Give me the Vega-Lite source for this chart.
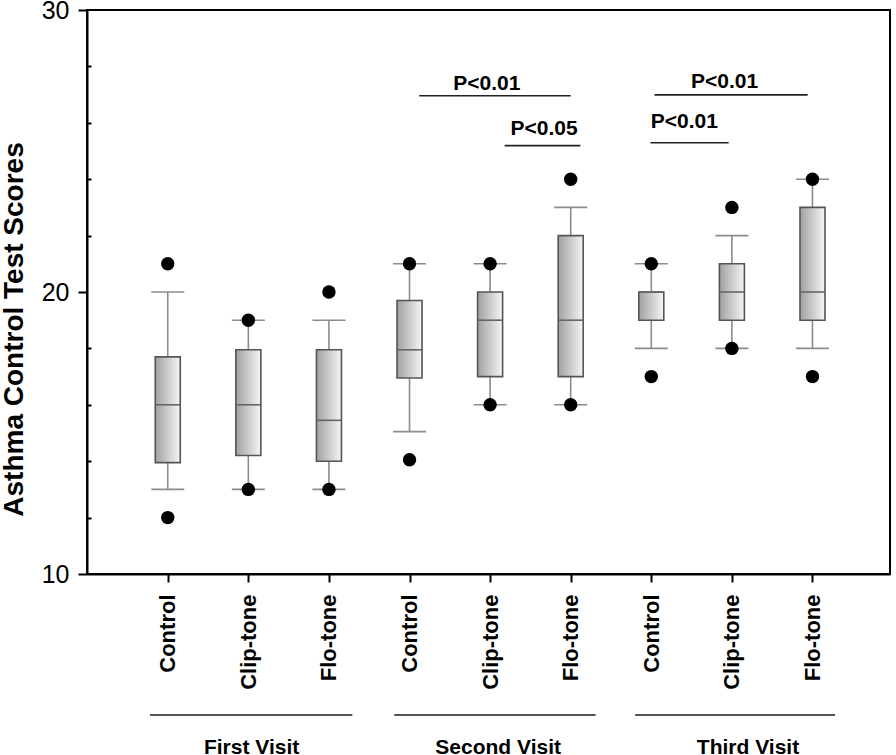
{
  "$schema": "https://vega.github.io/schema/vega-lite/v6.json",
  "width": 803,
  "height": 564,
  "autosize": {"type": "none"},
  "padding": {"left": 87, "top": 10, "right": 6, "bottom": 181},
  "background": "white",
  "config": {
    "view": {"stroke": "#000", "strokeWidth": 2},
    "font": "Liberation Sans",
    "axis": {"grid": false}
  },
  "datasets": {
    "boxes": [
      {"visit": "First Visit", "group": "Control", "pos": 1, "lower": 13, "q1": 13.95, "median": 16, "q3": 17.7, "upper": 20},
      {"visit": "First Visit", "group": "Clip-tone", "pos": 2, "lower": 13, "q1": 14.2, "median": 16, "q3": 17.95, "upper": 19},
      {"visit": "First Visit", "group": "Flo-tone", "pos": 3, "lower": 13, "q1": 14, "median": 15.45, "q3": 17.95, "upper": 19},
      {"visit": "Second Visit", "group": "Control", "pos": 4, "lower": 15.05, "q1": 16.95, "median": 17.95, "q3": 19.7, "upper": 21},
      {"visit": "Second Visit", "group": "Clip-tone", "pos": 5, "lower": 16, "q1": 17, "median": 19, "q3": 20, "upper": 21},
      {"visit": "Second Visit", "group": "Flo-tone", "pos": 6, "lower": 16, "q1": 17, "median": 19, "q3": 22, "upper": 23},
      {"visit": "Third Visit", "group": "Control", "pos": 7, "lower": 18, "q1": 19, "median": 20, "q3": 20, "upper": 21},
      {"visit": "Third Visit", "group": "Clip-tone", "pos": 8, "lower": 18, "q1": 19, "median": 20, "q3": 21, "upper": 22},
      {"visit": "Third Visit", "group": "Flo-tone", "pos": 9, "lower": 18, "q1": 19, "median": 20, "q3": 23, "upper": 24}
    ],
    "outliers": [
      {"pos": 1, "value": 21}, {"pos": 1, "value": 12},
      {"pos": 2, "value": 19}, {"pos": 2, "value": 13},
      {"pos": 3, "value": 20}, {"pos": 3, "value": 13},
      {"pos": 4, "value": 21}, {"pos": 4, "value": 14.05},
      {"pos": 5, "value": 21}, {"pos": 5, "value": 16},
      {"pos": 6, "value": 24}, {"pos": 6, "value": 16},
      {"pos": 7, "value": 21}, {"pos": 7, "value": 17},
      {"pos": 8, "value": 23}, {"pos": 8, "value": 18},
      {"pos": 9, "value": 24}, {"pos": 9, "value": 17}
    ],
    "pvalues": [
      {"label": "P<0.01", "x1": 4.12, "x2": 6.0, "y": 26.96, "xt": 4.96, "yt": 27.16},
      {"label": "P<0.05", "x1": 5.18, "x2": 6.12, "y": 25.19, "xt": 5.67, "yt": 25.57},
      {"label": "P<0.01", "x1": 7.04, "x2": 8.94, "y": 26.99, "xt": 7.91, "yt": 27.23},
      {"label": "P<0.01", "x1": 6.99, "x2": 7.96, "y": 25.29, "xt": 7.41, "yt": 25.82}
    ],
    "visits": [
      {"visit": "First Visit", "x1": 0.78, "x2": 3.29, "y": 5.0, "xt": 2.04, "yt": 3.62},
      {"visit": "Second Visit", "x1": 3.81, "x2": 6.31, "y": 5.0, "xt": 5.1, "yt": 3.62},
      {"visit": "Third Visit", "x1": 6.8, "x2": 9.28, "y": 5.0, "xt": 8.2, "yt": 3.62}
    ]
  },
  "resolve": {"axis": {"y": "independent", "x": "independent"}},
  "layer": [
    {
      "data": {"name": "boxes"},
      "mark": {"type": "rule", "color": "#8c8c8c", "strokeWidth": 1.6},
      "encoding": {
        "x": {"field": "pos", "type": "quantitative", "scale": {"domain": [0.06, 9.9], "nice": false, "zero": false},
          "axis": {
            "orient": "bottom",
            "values": [1, 2, 3, 4, 5, 6, 7, 8, 9],
            "labelExpr": "datum.value == 1 || datum.value == 4 || datum.value == 7 ? 'Control' : (datum.value == 2 || datum.value == 5 || datum.value == 8 ? 'Clip-tone' : 'Flo-tone')",
            "labelAngle": 270,
            "labelAlign": "right",
            "labelBaseline": "middle",
            "labelFontSize": 22,
            "labelFontWeight": "bold",
            "labelColor": "#000",
            "labelPadding": 12,
            "labelFlush": false,
            "labelOverlap": false,
            "ticks": true,
            "tickSize": 8,
            "tickWidth": 2,
            "tickColor": "#000",
            "domain": true,
            "domainColor": "#000",
            "domainWidth": 2,
            "title": null,
            "grid": false
          }},
        "y": {"field": "lower", "type": "quantitative", "scale": {"domain": [10, 30], "nice": false, "zero": false},
          "axis": {
            "orient": "left",
            "values": [10, 20, 30],
            "tickSize": 9,
            "tickWidth": 2,
            "tickColor": "#000",
            "labelFontSize": 25,
            "labelColor": "#000",
            "labelPadding": 9,
            "labelFlush": false,
            "labelOverlap": false,
            "domainColor": "#000",
            "domainWidth": 2,
            "grid": false,
            "title": "Asthma Control Test Scores",
            "titleFontSize": 28,
            "titleFontWeight": "bold",
            "titleColor": "#000",
            "titleAngle": 270,
            "titleAlign": "center",
            "titleBaseline": "middle",
            "titleX": -72.5,
            "titleY": 319
          }},
        "y2": {"field": "upper"}
      }
    },
    {
      "data": {"name": "boxes"},
      "mark": {"type": "tick", "orient": "horizontal", "size": 33, "thickness": 1.6, "color": "#8c8c8c", "opacity": 1},
      "encoding": {
        "x": {"field": "pos", "type": "quantitative", "scale": {"domain": [0.06, 9.9], "nice": false, "zero": false}, "axis": null},
        "y": {"field": "upper", "type": "quantitative", "scale": {"domain": [10, 30], "nice": false, "zero": false}, "axis": null}
      }
    },
    {
      "data": {"name": "boxes"},
      "mark": {"type": "tick", "orient": "horizontal", "size": 33, "thickness": 1.6, "color": "#8c8c8c", "opacity": 1},
      "encoding": {
        "x": {"field": "pos", "type": "quantitative", "scale": {"domain": [0.06, 9.9], "nice": false, "zero": false}, "axis": null},
        "y": {"field": "lower", "type": "quantitative", "scale": {"domain": [10, 30], "nice": false, "zero": false}, "axis": null}
      }
    },
    {
      "data": {"name": "boxes"},
      "mark": {
        "type": "bar",
        "width": 25,
        "fill": {"gradient": "linear", "x1": 0, "y1": 0, "x2": 1, "y2": 0,
          "stops": [{"offset": 0, "color": "#a0a0a0"}, {"offset": 1, "color": "#f6f6f6"}]},
        "stroke": "#555555",
        "strokeWidth": 1.6,
        "opacity": 1
      },
      "encoding": {
        "x": {"field": "pos", "type": "quantitative", "scale": {"domain": [0.06, 9.9], "nice": false, "zero": false}, "axis": null},
        "y": {"field": "q1", "type": "quantitative", "scale": {"domain": [10, 30], "nice": false, "zero": false}, "axis": null},
        "y2": {"field": "q3"}
      }
    },
    {
      "data": {"name": "boxes"},
      "mark": {"type": "tick", "orient": "horizontal", "size": 25, "thickness": 1.6, "color": "#666666", "opacity": 1},
      "encoding": {
        "x": {"field": "pos", "type": "quantitative", "scale": {"domain": [0.06, 9.9], "nice": false, "zero": false}, "axis": null},
        "y": {"field": "median", "type": "quantitative", "scale": {"domain": [10, 30], "nice": false, "zero": false}, "axis": null}
      }
    },
    {
      "data": {"name": "outliers"},
      "mark": {"type": "circle", "size": 180, "color": "#000", "opacity": 1},
      "encoding": {
        "x": {"field": "pos", "type": "quantitative", "scale": {"domain": [0.06, 9.9], "nice": false, "zero": false}, "axis": null},
        "y": {"field": "value", "type": "quantitative", "scale": {"domain": [10, 30], "nice": false, "zero": false},
          "axis": {
            "orient": "left",
            "values": [12, 14, 16, 18, 22, 24, 26, 28],
            "tickSize": -4,
            "tickWidth": 2,
            "tickColor": "#000",
            "labels": false,
            "domain": false,
            "grid": false,
            "title": null
          }}
      }
    },
    {
      "data": {"name": "pvalues"},
      "mark": {"type": "rule", "color": "#222", "strokeWidth": 1.6},
      "encoding": {
        "x": {"field": "x1", "type": "quantitative", "scale": {"domain": [0.06, 9.9], "nice": false, "zero": false}, "axis": null},
        "x2": {"field": "x2"},
        "y": {"field": "y", "type": "quantitative", "scale": {"domain": [10, 30], "nice": false, "zero": false}, "axis": null}
      }
    },
    {
      "data": {"name": "pvalues"},
      "mark": {"type": "text", "fontSize": 21, "fontWeight": "bold", "color": "#000", "align": "center", "baseline": "alphabetic"},
      "encoding": {
        "x": {"field": "xt", "type": "quantitative", "scale": {"domain": [0.06, 9.9], "nice": false, "zero": false}, "axis": null},
        "y": {"field": "yt", "type": "quantitative", "scale": {"domain": [10, 30], "nice": false, "zero": false}, "axis": null},
        "text": {"field": "label"}
      }
    },
    {
      "data": {"name": "visits"},
      "mark": {"type": "rule", "color": "#555", "strokeWidth": 2},
      "encoding": {
        "x": {"field": "x1", "type": "quantitative", "scale": {"domain": [0.06, 9.9], "nice": false, "zero": false}, "axis": null},
        "x2": {"field": "x2"},
        "y": {"field": "y", "type": "quantitative", "scale": {"domain": [10, 30], "nice": false, "zero": false}, "axis": null}
      }
    },
    {
      "data": {"name": "visits"},
      "mark": {"type": "text", "fontSize": 21, "fontWeight": "bold", "color": "#000", "align": "center", "baseline": "alphabetic"},
      "encoding": {
        "x": {"field": "xt", "type": "quantitative", "scale": {"domain": [0.06, 9.9], "nice": false, "zero": false}, "axis": null},
        "y": {"field": "yt", "type": "quantitative", "scale": {"domain": [10, 30], "nice": false, "zero": false}, "axis": null},
        "text": {"field": "visit"}
      }
    }
  ]
}
